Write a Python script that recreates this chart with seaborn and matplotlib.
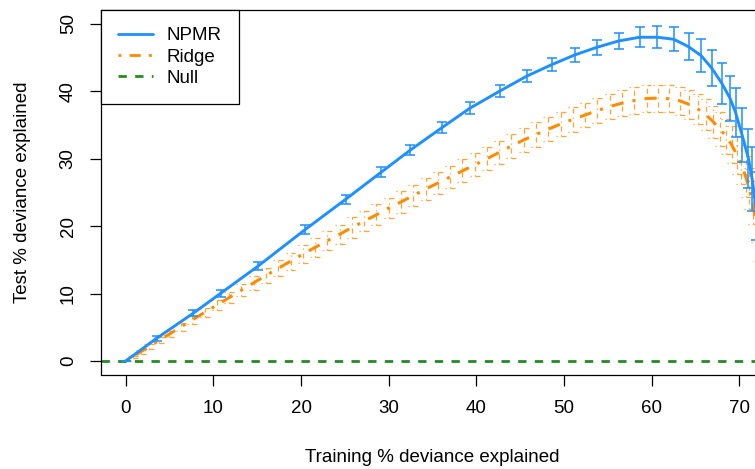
import matplotlib
matplotlib.use("Agg")
import matplotlib.pyplot as plt
import seaborn as sns
import numpy as np
from matplotlib.lines import Line2D

# ---------------- data ----------------
npmr_x = [0, 3.53, 7.70, 10.83, 15.11, 20.51, 25.10, 29.17, 32.48, 36.13, 39.24,
          42.74, 45.77, 48.58, 51.20, 53.74, 56.22, 58.61, 60.63, 62.52, 64.19,
          65.64, 66.85, 67.99, 68.95, 69.55, 70.31, 71.03, 71.45, 71.85, 72.3, 72.9]
npmr_y = [0, 3.37, 7.08, 10.04, 14.09, 19.54, 24.0, 28.04, 31.31, 34.67, 37.49,
          40.10, 42.28, 43.96, 45.4, 46.54, 47.48, 48.03, 48.03, 47.73, 46.63,
          45.3, 43.43, 41.2, 38.92, 36.9, 33.5, 30.0, 27.0, 23.0, 17.5, 11.0]
npmr_err = [0, 0.4, 0.45, 0.5, 0.55, 0.65, 0.7, 0.75, 0.8, 0.85, 0.9,
            0.9, 0.95, 1.0, 1.0, 1.1, 1.25, 1.45, 1.6, 1.75, 2.0,
            2.4, 2.7, 3.0, 3.3, 3.6, 4.0, 4.4, 4.7, 5.0, 5.3, 5.6]

ridge_x = [0, 0.8, 1.7, 2.7, 3.8, 5.0, 6.3, 7.6, 9.0, 10.4,
           11.8, 13.2, 14.6, 16.0, 17.4, 18.8, 20.2, 21.6, 23.0, 24.4,
           25.8, 27.2, 28.6, 30.0, 31.4, 32.8, 34.2, 35.6, 37.0, 38.4,
           39.8, 41.2, 42.6, 44.0, 45.4, 46.8, 48.2, 49.6, 51.0, 52.4,
           53.8, 55.2, 56.6, 58.0, 59.4, 60.7, 62.0, 63.2, 64.3, 65.3,
           66.2, 67.0, 67.8, 68.5, 69.1, 69.7, 70.2, 70.7, 71.1, 71.5,
           71.85, 72.2, 72.5, 72.8, 73.1]
ridge_y = [0, 0.6, 1.35, 2.15, 3.05, 4.0, 5.05, 6.1, 7.2, 8.3,
           9.4, 10.5, 11.6, 12.7, 13.75, 14.8, 15.85, 16.85, 17.85, 18.8,
           19.8, 20.75, 21.7, 22.7, 23.6, 24.55, 25.5, 26.4, 27.3, 28.2,
           29.1, 30.0, 30.95, 31.9, 32.8, 33.6, 34.4, 35.15, 35.85, 36.5,
           37.15, 37.75, 38.25, 38.65, 38.95, 39.0, 38.9, 38.6, 38.05, 37.35,
           36.5, 35.5, 34.4, 33.3, 32.1, 30.6, 29.2, 27.4, 25.6, 23.5,
           21.0, 18.2, 15.2, 12.0, 8.5]
ridge_err = [0, 0.2, 0.3, 0.4, 0.45, 0.5, 0.55, 0.6, 0.65, 0.7,
             0.8, 0.9, 1.0, 1.1, 1.2, 1.25, 1.3, 1.35, 1.4, 1.45,
             1.5, 1.5, 1.55, 1.55, 1.6, 1.6, 1.6, 1.65, 1.65, 1.7,
             1.7, 1.7, 1.75, 1.75, 1.75, 1.8, 1.8, 1.8, 1.85, 1.85,
             1.9, 1.9, 1.9, 1.95, 1.95, 2.0, 2.0, 2.05, 2.1, 2.2,
             2.3, 2.4, 2.5, 2.6, 2.7, 2.8, 2.9, 3.0, 3.1, 3.2,
             3.3, 3.4, 3.5, 3.6, 3.7]

null_level = 0
legend_labels = ["NPMR", "Ridge", "Null"]
x_ticks = [0, 10, 20, 30, 40, 50, 60, 70]
y_ticks = [0, 10, 20, 30, 40, 50]

# ---------------- style ----------------
NPMR_C = "#1E90FF"
RIDGE_C = "#FF8C00"
NULL_C = "#228B22"
DOTDASH = (0, (1, 3, 4, 3))
FS = 13.5

sns.set_theme(style="ticks")
plt.rcParams["font.family"] = ["Liberation Sans", "DejaVu Sans"]
for k in ["text.color", "axes.labelcolor", "xtick.color", "ytick.color", "axes.edgecolor"]:
    plt.rcParams[k] = "black"

W_PX, H_PX = 755, 469
fig = plt.figure(figsize=(W_PX / 100, H_PX / 100), dpi=100)
left_px, right_px, top_px, bot_px = 101.1, 764.0, 10.5, 374.5
ax = fig.add_axes([left_px / W_PX, (H_PX - bot_px) / H_PX,
                   (right_px - left_px) / W_PX, (bot_px - top_px) / H_PX])

# Null line
ax.axhline(null_level, color=NULL_C, lw=2.0, linestyle=(0, (3, 3)), zorder=1)

# Ridge error bars (dot-dash)
rx = np.array(ridge_x); ry = np.array(ridge_y); re = np.array(ridge_err)
eb = ax.errorbar(rx, ry, yerr=re, fmt="none", ecolor=RIDGE_C, elinewidth=0.9,
                 capsize=0, alpha=0.8, zorder=2)
for lc in eb.lines[2]:
    lc.set_linestyle(DOTDASH)
cap_half = 5.0 / 8.775
ax.hlines(ry + re, rx - cap_half, rx + cap_half, colors=RIDGE_C, linewidth=0.9,
          linestyles=[DOTDASH], alpha=0.8, zorder=2)
ax.hlines(ry - re, rx - cap_half, rx + cap_half, colors=RIDGE_C, linewidth=0.9,
          linestyles=[DOTDASH], alpha=0.8, zorder=2)

# Ridge mean line
sns.lineplot(x=ridge_x, y=ridge_y, color=RIDGE_C, linewidth=2.2, estimator=None,
             sort=False, ax=ax, zorder=3)
ax.lines[-1].set_linestyle(DOTDASH)

# NPMR line and error bars
sns.lineplot(x=npmr_x, y=npmr_y, color=NPMR_C, linewidth=2.1, estimator=None,
             sort=False, ax=ax, zorder=4)
ax.errorbar(npmr_x, npmr_y, yerr=npmr_err, fmt="none", ecolor=NPMR_C,
            elinewidth=1.1, capsize=3.6, capthick=1.1, zorder=4)

ax.set_xlim(-2.8, 72.8)
ax.set_ylim(-2, 52)
ax.set_xticks(x_ticks)
ax.set_yticks(y_ticks)
ax.tick_params(axis="both", direction="out", length=8, width=0.9, labelsize=FS)
ax.tick_params(axis="x", pad=10)
ax.tick_params(axis="y", pad=9.5, labelrotation=90)
for lab in ax.get_yticklabels():
    lab.set_va("center")
for s in ax.spines.values():
    s.set_visible(True)
    s.set_linewidth(0.9)
    s.set_color("black")

ax.set_xlabel("Training % deviance explained", fontsize=FS, va="center")
ax.set_ylabel("Test % deviance explained", fontsize=FS, va="center")
ax.xaxis.set_label_coords(0.499, (bot_px - 457) / (bot_px - top_px))
ax.yaxis.set_label_coords((22 - left_px) / (right_px - left_px), 0.5)

handles = [Line2D([], [], color=NPMR_C, lw=2.0),
           Line2D([], [], color=RIDGE_C, lw=2.0, linestyle=DOTDASH),
           Line2D([], [], color=NULL_C, lw=2.0, linestyle=(0, (3, 3)))]
leg = ax.legend(handles, legend_labels, loc="upper left", bbox_to_anchor=(0, 1),
                borderaxespad=0, frameon=True, fancybox=False, edgecolor="black",
                framealpha=1, fontsize=FS, borderpad=0.9, labelspacing=0.22,
                handlelength=1.85, handletextpad=0.75)
leg.get_frame().set_linewidth(0.9)

fig.savefig("out.png", dpi=100)
